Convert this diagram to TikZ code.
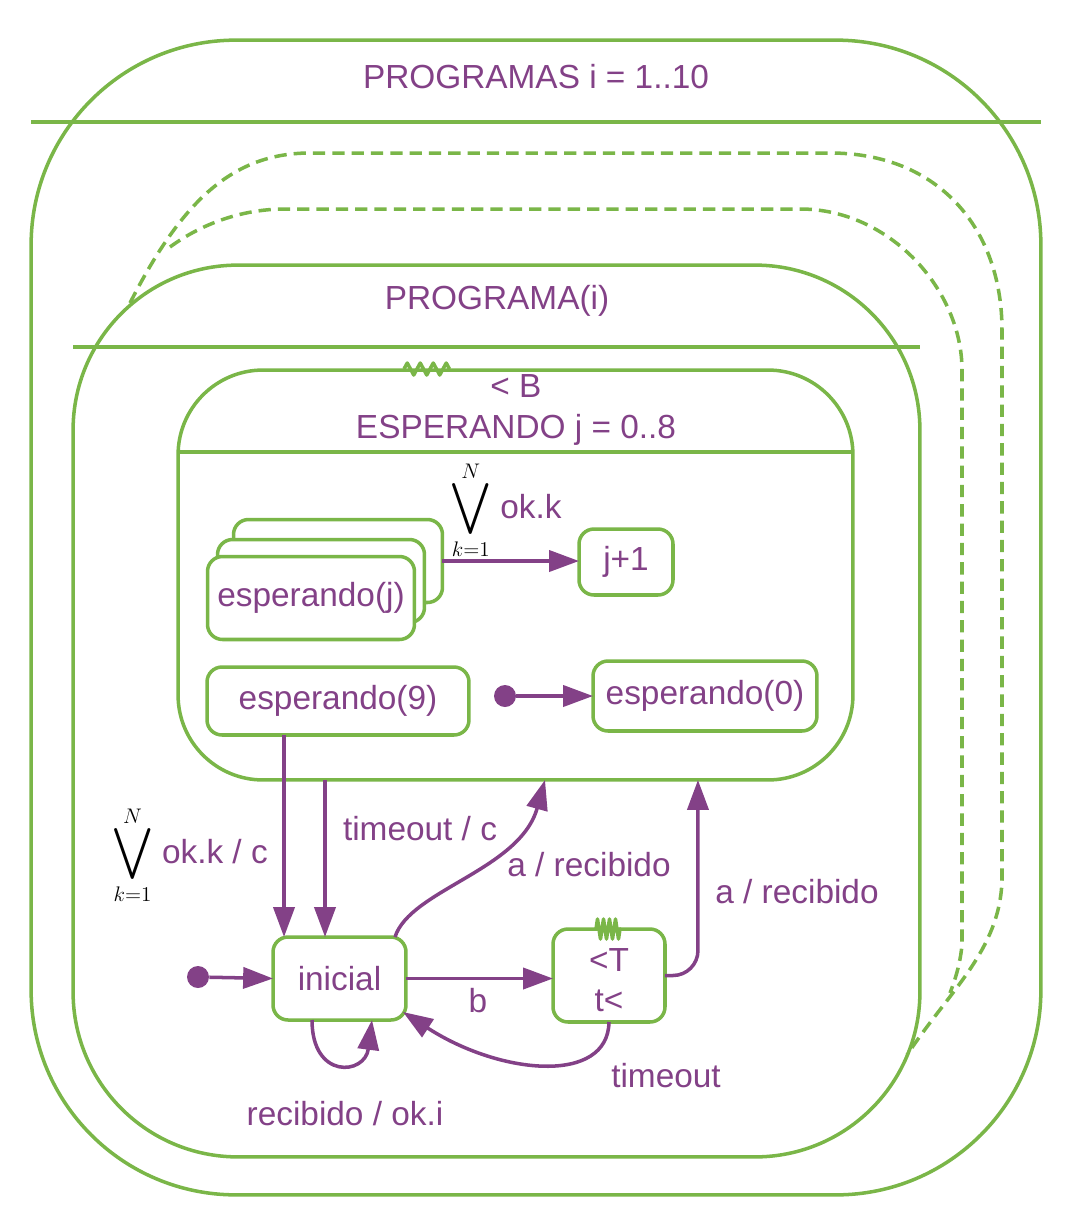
\RequirePackage{fix-cm}
\documentclass[tikz,border=0pt]{standalone}
\usepackage{exscale}
\usepackage{fontspec}
\setmainfont{Liberation Sans}
\usetikzlibrary{arrows.meta,decorations.pathmorphing}
\definecolor{lgreen}{RGB}{122,182,72}
\definecolor{lpurple}{RGB}{131,65,135}
\newcommand{\allok}{{\color{black}$\vcenter{\offinterlineskip\halign{\hfil##\hfil\cr
	\fontsize{12}{12}\selectfont$N$\cr\noalign{\kern1pt}
	\fontsize{22.5}{24}\selectfont$\displaystyle\bigvee$\cr\noalign{\kern2pt}
	\fontsize{12}{12}\selectfont$k{=}1$\cr}}$}}

\begin{document}
\begin{tikzpicture}[x=.02cm, y=-.02cm,
		font=\fontsize{19}{23}\selectfont, text=lpurple,
		region/.style={draw=lgreen, line width=2pt, rounded corners=#1, inner sep=0pt, outer sep=0pt},
		state/.style={draw=lgreen, line width=2pt, rounded corners=.3cm, fill=white, inner sep=0pt, outer sep=0pt},
		copyline/.style={draw=lgreen, line width=2pt, dash pattern=on 7pt off 4pt},
		sepline/.style={draw=lgreen, line width=2pt},
		timer/.style={draw=lgreen, line width=2pt, line join=round, decorate, decoration={zigzag, segment length=#1, amplitude=.12cm}},
		trans/.style={draw=lpurple, line width=2pt, -{Triangle[length=17pt,width=12pt]}},
		dot/.style={circle, fill=lpurple, inner sep=0pt, minimum size=.44cm}]
	\useasboundingbox (0,0) rectangle (1074,1232);
	
	% regions
	\node[region=4.1cm, minimum width=20.2cm, minimum height=23.1cm] (progs) at (536,617.5) {};
	\node[region=3.3cm, minimum width=16.94cm, minimum height=17.84cm] (prog) at (496.5,711) {};
	\node[region=1.7cm, minimum width=13.5cm, minimum height=8.2cm] (esp) at (515.5,575) {};
	
	% copies of PROGRAMA(i)
	\draw[copyline] (130,303) .. controls (180,205) and (230,153) .. (310,153) -- (830,153)
		.. controls (940,153) and (1002,230) .. (1002,330) -- (1002,880)
		.. controls (1000,950) and (950,990) .. (907,1055);
	\draw[copyline] (170,247) .. controls (200,225) and (240,209) .. (285,209) -- (800,209)
		.. controls (890,209) and (962,290) .. (962,370) -- (962,945)
		.. controls (960,965) and (955,980) .. (950,993);
	
	\node (progstitle) at (536,77) {PROGRAMAS i = 1..10};
	\draw[sepline] (progs.west |- 0,122) -- (progs.east |- 0,122);
	\node (progtitle) at (497,301) {PROGRAMA(i)};
	\draw[sepline] (prog.west |- 0,347) -- (prog.east |- 0,347);
	\node[align=center] (esptitle) at (516,410) {< B\\ESPERANDO j = 0..8};
	\draw[sepline] (esp.west |- 0,452) -- (esp.east |- 0,452);
	\draw[timer=.26cm] (404,369) -- (450,369);
	
	% states
	\node[state, minimum width=4.18cm, minimum height=1.66cm] (espj3) at (338,561) {};
	\node[state, minimum width=4.14cm, minimum height=1.66cm] (espj2) at (321,581) {};
	\node[state, minimum width=4.14cm, minimum height=1.66cm] (espj) at (311,598) {esperando(j)};
	\node[state, minimum width=1.88cm, minimum height=1.32cm] (jnext) at (626,562) {j+1};
	\node[state, minimum width=5.24cm, minimum height=1.36cm] (esp9) at (338,701) {esperando(9)};
	\node[dot] (espinit) at (505,696) {};
	\node[state, minimum width=4.48cm, minimum height=1.4cm] (esp0) at (705,696) {esperando(0)};
	\node[state, minimum width=2.66cm, minimum height=1.66cm] (ini) at (339.5,978.5) {inicial};
	\node[dot] (proginit) at (198,977) {};
	\node[state, minimum width=2.24cm, minimum height=1.86cm] (tmr) at (609,975.5) {};
	\node[align=center] (tmrtext) at (609,980) {<T\\t<};
	\draw[timer=.12cm, decoration={amplitude=.2cm}] (596,929) -- (621,929);
	
	% transitions
	\draw[trans] (espj3.east) -- (espj3.east -| jnext.west);
	\node (lblallok) at (506,510) {\allok\ ok.k};
	\draw[trans] (espinit) -- (esp0.west);
	\draw[trans] ([xshift=-1.08cm]esp9.south) -- ([xshift=-1.08cm]esp9.south |- ini.north);
	\node (lblallokc) at (190,855) {\allok\ ok.k / c};
	\draw[trans] ([xshift=-.29cm]ini.north |- esp.south) -- ([xshift=-.29cm]ini.north);
	\node (lbltimeoutc) at (420,829) {timeout / c};
	\draw[trans] (proginit) -- (ini.west);
	\draw[trans] (ini.east) -- (ini.east -| tmr.west);
	\node (lblb) at (478,1001) {b};
	\draw[trans] ([xshift=1.11cm]ini.north) .. controls (410,890) and (520,870) .. ([xshift=.59cm]esp.south);
	\node (lblarec) at (589,865) {a / recibido};
	\draw[trans, rounded corners=.5cm] (tmr.east) -| ([xshift=3.65cm]esp.south);
	\node (lblarect) at (797,892) {a / recibido};
	\draw[trans] (tmr.south) .. controls (608,1085) and (500,1075) .. ([xshift=-.06cm,yshift=.16cm]ini.south east);
	\node (lbltimeout) at (666,1076) {timeout};
	\draw[trans] ([xshift=-.55cm]ini.south) .. controls (312,1080) and (365,1075) .. ([xshift=.65cm]ini.south);
	\node (lblrec) at (345,1114) {recibido / ok.i};
\end{tikzpicture}
\end{document}
